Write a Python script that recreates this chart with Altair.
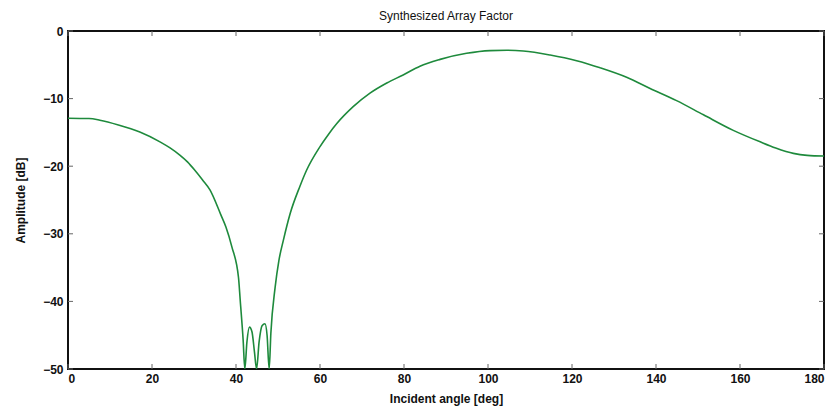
import altair as alt
import pandas as pd

angles = [0, 5, 7.6, 12, 17.1, 21.9, 24.3, 26.7, 28.5, 30.2, 32, 33.8, 36.4, 37.6, 39.0, 40.6,
          41.0, 41.7, 42.1, 42.6, 43.2, 43.8, 44.4, 44.9, 45.5, 46.2, 46.9, 47.4, 47.9, 48.3,
          49.3, 50.2, 51.3, 52.9, 55.2, 56.8, 60.0, 62, 64.0, 67.9, 71.9, 75.9, 79.8, 83.8,
          88.6, 94.9, 100.5, 104.5, 108.4, 114.8, 121.1, 126.7, 133.0, 138.6, 144.9, 151.3,
          158.4, 164.8, 168.5, 172.7, 176, 180]
amplitude_db = [-12.9, -12.95, -13.2, -13.9, -14.95, -16.4, -17.3, -18.4, -19.4, -20.6, -22.0,
                -23.5, -27.2, -29.0, -31.9, -36.5, -39.8, -45.7, -50, -46, -43.8, -44.5,
                -47.5, -50, -46, -43.6, -43.3, -45, -50, -44.7, -38.0, -34, -30.9, -27.0,
                -23.0, -20.6, -17.1, -15.3, -13.7, -11.2, -9.2, -7.7, -6.5, -5.2, -4.2, -3.3,
                -2.9, -2.85, -2.95, -3.55, -4.4, -5.45, -6.85, -8.5, -10.3, -12.4, -14.7,
                -16.4, -17.3, -18.1, -18.4, -18.5]
x_ticks = [0, 20, 40, 60, 80, 100, 120, 140, 160, 180]
y_ticks = [0, -10, -20, -30, -40, -50]

W, H = 756, 338
df = pd.DataFrame({"angle": angles, "db": amplitude_db})
xt = pd.DataFrame({"t": x_ticks})
yt = pd.DataFrame({"t": y_ticks})

font = "Liberation Sans"
xscale = alt.Scale(domain=[0, 180], nice=False, zero=False)
yscale = alt.Scale(domain=[-50, 0], nice=False, zero=False)

line = alt.Chart(df).mark_line(color="#1e8a3c", strokeWidth=1.6, clip=True, interpolate="monotone").encode(
    x=alt.X("angle:Q", scale=xscale,
            axis=alt.Axis(values=x_ticks, title="Incident angle [deg]", domain=False, ticks=False,
                          grid=False, labelFont=font, labelFontSize=12, labelFontWeight="bold",
                          labelColor="#111", labelPadding=4, titleFont=font, titleFontSize=12,
                          titleFontWeight="bold", titleColor="#111", titlePadding=9)),
    y=alt.Y("db:Q", scale=yscale,
            axis=alt.Axis(values=y_ticks, title="Amplitude [dB]", domain=False, ticks=False,
                          grid=False, labelFont=font, labelFontSize=12, labelFontWeight="bold",
                          labelColor="#111", labelPadding=5,
                          labelExpr="datum.value == 0 ? '0' : '\u2212' + abs(datum.value)",
                          titleFont=font, titleFontSize=12, titleFontWeight="bold",
                          titleColor="#111", titlePadding=15)),
)

tick_color = "#666"
bottom_ticks = alt.Chart(xt).mark_rule(color=tick_color, strokeWidth=1).encode(
    x=alt.X("t:Q", scale=xscale), y=alt.value(H), y2=alt.value(H - 5))
top_ticks = alt.Chart(xt).mark_rule(color=tick_color, strokeWidth=1).encode(
    x=alt.X("t:Q", scale=xscale), y=alt.value(0), y2=alt.value(5))
left_ticks = alt.Chart(yt).mark_rule(color=tick_color, strokeWidth=1).encode(
    y=alt.Y("t:Q", scale=yscale), x=alt.value(0), x2=alt.value(5))
right_ticks = alt.Chart(yt).mark_rule(color=tick_color, strokeWidth=1).encode(
    y=alt.Y("t:Q", scale=yscale), x=alt.value(W), x2=alt.value(W - 5))

chart = alt.layer(bottom_ticks, top_ticks, left_ticks, right_ticks, line).properties(
    width=W, height=H,
    title=alt.Title("Synthesized Array Factor", font=font, fontSize=12, fontWeight="normal",
                    color="#111", offset=2),
    autosize=alt.AutoSizeParams(type="none"),
    padding={"left": 60, "top": 23, "right": 4, "bottom": 37},
).configure_view(stroke="#111", strokeWidth=2)

chart.save("out.html", embed_options={"renderer": "svg", "actions": False})
